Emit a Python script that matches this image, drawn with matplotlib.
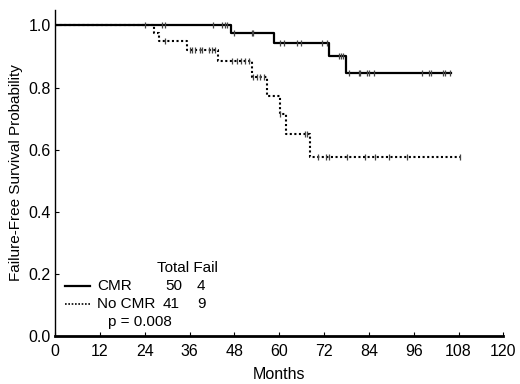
import matplotlib
matplotlib.use("Agg")
import matplotlib.pyplot as plt
import numpy as np

plt.rcParams["font.family"] = ["Liberation Sans", "DejaVu Sans"]

# Kaplan-Meier steps
cmr_fail_t = [47.0, 58.6, 73.4, 78.0]
cmr_surv = [1.0, 0.975, 0.943, 0.902, 0.846]
cmr_end = 105.9
cmr_censor = [24.1, 28.6, 29.5, 42.3, 44.6, 45.4, 46.0, 48.0, 52.7, 53.1,
              60.3, 61.4, 64.7, 65.9, 71.4, 72.8, 75.9, 76.5, 77.2, 78.6,
              81.3, 81.7, 83.5, 83.9, 85.3, 98.2, 100.0, 100.6, 103.8, 104.5, 105.6]

nocmr_fail_t = [26.5, 27.8, 35.4, 43.5, 52.7, 56.8, 60.2, 61.9, 68.3]
nocmr_surv = [1.0, 0.976, 0.95, 0.921, 0.886, 0.834, 0.774, 0.716, 0.650, 0.576]
nocmr_end = 108.5
nocmr_censor = [29.5, 36.2, 36.7, 37.5, 38.7, 39.3, 41.1, 42.0, 42.9,
                47.3, 48.7, 49.8, 50.9, 52.0, 53.1, 54.0, 54.9, 55.8,
                60.3, 67.0, 67.5, 70.5, 72.6, 73.2, 78.1, 83.0, 85.7,
                89.3, 94.2, 108.5]

x_ticks = [0, 12, 24, 36, 48, 60, 72, 84, 96, 108, 120]
y_ticks = [0.0, 0.2, 0.4, 0.6, 0.8, 1.0]


def km_curve(ax, fail_t, surv, end, censor, ls, lw):
    xs = [0.0] + list(fail_t) + [end]
    ys = list(surv) + [surv[-1]]
    ax.step(xs, ys, where="post", color="black", linestyle=ls, linewidth=lw)
    idx = np.searchsorted(fail_t, censor, side="right")
    cy = [surv[i] for i in idx]
    ax.plot(censor, cy, linestyle="none", marker="|", markersize=5,
            markeredgewidth=0.9, color="#444444")


fig = plt.figure(figsize=(5.2, 3.84), dpi=100)
ax = fig.add_axes([0.106, 0.126, 0.862, 0.848])

km_curve(ax, cmr_fail_t, cmr_surv, cmr_end, cmr_censor, "-", 1.6)
km_curve(ax, nocmr_fail_t, nocmr_surv, nocmr_end, nocmr_censor, (0, (1, 1.2)), 1.5)

ax.set_xlim(0, 120)
ax.set_ylim(0, 1.05)
ax.set_xticks(x_ticks)
ax.set_yticks(y_ticks)
ax.set_yticklabels([f"{v:.1f}" for v in y_ticks])
ax.tick_params(direction="in", length=3, labelsize=11.5, colors="black")
ax.tick_params(axis="x", pad=6)
ax.tick_params(axis="y", pad=3)
for s in ["top", "right"]:
    ax.spines[s].set_visible(False)
ax.spines["bottom"].set_linewidth(2)
ax.spines["left"].set_linewidth(1)

ax.set_xlabel("Months", fontsize=11.5, labelpad=6)
ax.set_ylabel("Failure-Free Survival Probability", fontsize=11, labelpad=4)

# legend-like table in axes coordinates
tr = ax.transAxes
fs = 11
ax.text(0.227, 0.208, "Total Fail", transform=tr, fontsize=fs, va="center")
ax.plot([0.022, 0.078], [0.152, 0.152], transform=tr, color="black",
        linewidth=1.6, clip_on=False)
ax.plot([0.022, 0.078], [0.097, 0.097], transform=tr, color="black",
        linewidth=1.2, linestyle=(0, (1, 1)), clip_on=False)
ax.text(0.093, 0.152, "CMR", transform=tr, fontsize=fs, va="center")
ax.text(0.093, 0.097, "No CMR", transform=tr, fontsize=fs, va="center")
ax.text(0.245, 0.152, "50", transform=tr, fontsize=fs, va="center")
ax.text(0.239, 0.097, "41", transform=tr, fontsize=fs, va="center")
ax.text(0.316, 0.152, "4", transform=tr, fontsize=fs, va="center")
ax.text(0.316, 0.097, "9", transform=tr, fontsize=fs, va="center")
ax.text(0.118, 0.042, "p = 0.008", transform=tr, fontsize=fs, va="center")

fig.savefig("out.png", dpi=100)
